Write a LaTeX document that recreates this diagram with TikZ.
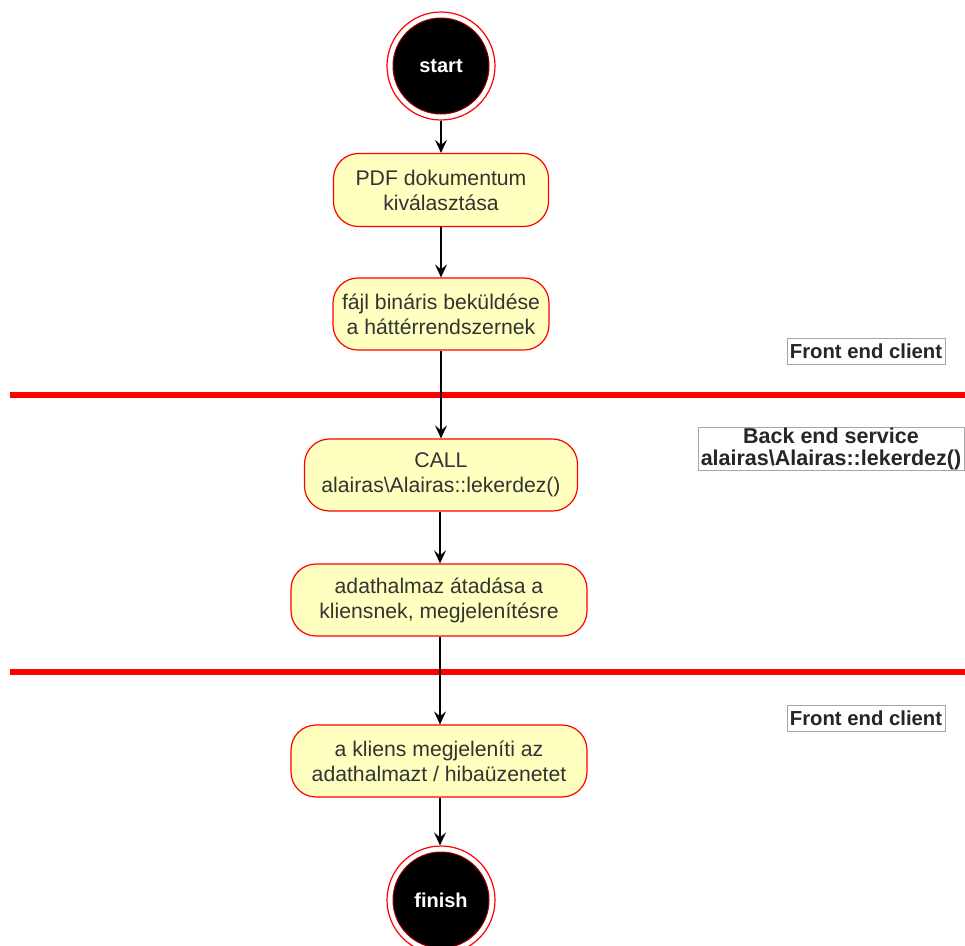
\documentclass[tikz,border=0pt]{standalone}
\usepackage{fontspec}
\setmainfont{Liberation Sans}
\usetikzlibrary{arrows.meta}
\definecolor{boxfill}{HTML}{FFFFC0}
\definecolor{boxred}{HTML}{FF0000}
\definecolor{txt}{HTML}{333333}
\tikzset{
  act/.style={draw=boxred, fill=boxfill, line width=1.2pt, rounded corners=25pt,
    align=center, font=\fontsize{21.2}{25}\selectfont, text=txt, inner sep=0pt},
  endpt/.style={circle, draw=boxred, line width=1.2pt, fill=white, minimum size=108pt, inner sep=0pt},
  endin/.style={circle, draw=boxred!60!black, line width=1pt, fill=black, minimum size=96pt, inner sep=0pt,
    text=white, font=\fontsize{20}{24}\selectfont\bfseries},
  lane/.style={draw=boxred, line width=6pt},
  lbl/.style={draw=black!35, fill=white, line width=0.6pt, align=center, inner sep=2pt,
    font=\fontsize{20.3}{23}\selectfont\bfseries, text=black!85},
  flow/.style={draw=black, line width=1.5pt, -{Stealth[length=13pt,width=12pt,inset=5pt]}}
}
\begin{document}
\begin{tikzpicture}[x=1pt,y=-1pt]
\useasboundingbox (0,0) rectangle (965,945);
% start
\node[endpt] (starto) at (441,66) {};
\node[endin] (start) at (441,66) {start};
% activities
\node[act, minimum width=215pt, minimum height=73pt] (a1) at (441,190) {PDF dokumentum\\kiválasztása};
\node[act, minimum width=216pt, minimum height=72pt] (a2) at (441,314) {fájl bináris beküldése\\a háttérrendszernek};
\node[act, minimum width=273pt, minimum height=72pt] (a3) at (441,475) {CALL\\alairas\textbackslash Alairas::lekerdez()};
\node[act, minimum width=296pt, minimum height=72pt] (a4) at (439,600) {adathalmaz átadása a\\kliensnek, megjelenítésre};
\node[act, minimum width=296pt, minimum height=72pt] (a5) at (439,761) {a kliens megjeleníti az\\adathalmazt / hibaüzenetet};
% finish
\node[endpt] (finisho) at (441,900) {};
\node[endin] (finish) at (441,900) {finish};
% lane separators
\coordinate (l1a) at (10,395);
\coordinate (l1b) at (965,395);
\coordinate (l2a) at (10,672);
\coordinate (l2b) at (965,672);
\draw[lane] (l1a) -- (l1b);
\draw[lane] (l2a) -- (l2b);
% labels
\node[lbl, minimum width=158pt, minimum height=26pt] (fe1) at (866,351) {Front end client};
\node[lbl, minimum width=266pt, minimum height=43pt, inner sep=0pt, font=\fontsize{21.5}{22}\selectfont\bfseries] (be) at (831,449) {Back end service\\alairas\textbackslash Alairas::lekerdez()};
\node[lbl, minimum width=158pt, minimum height=26pt] (fe2) at (866,718) {Front end client};
% flows
\draw[flow] (starto.south) -- (a1.north);
\draw[flow] (a1) -- (a2);
\draw[flow] (a2) -- (a3);
\draw[flow] (a3.south -| 440,0) -- (a4.north -| 440,0);
\draw[flow] (a4.south -| 440,0) -- (a5.north -| 440,0);
\draw[flow] (a5.south -| 440,0) -- (finisho.north -| 440,0);
\end{tikzpicture}
\end{document}
